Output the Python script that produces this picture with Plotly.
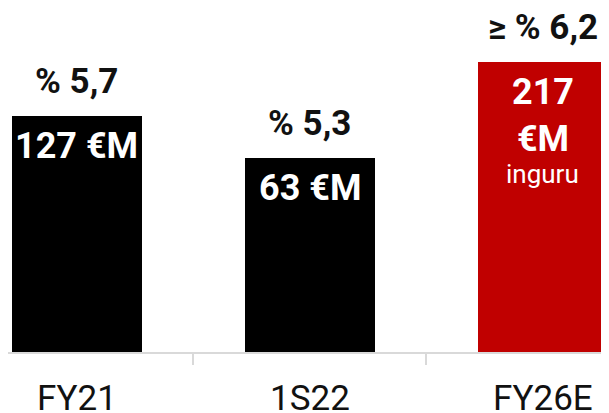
import plotly.graph_objects as go

categories = ["FY21", "1S22", "FY26E"]
margin_pct = [5.7, 5.3, 6.2]
pct_labels = ["% 5,7", "% 5,3", "≥ % 6,2"]
amount_labels = ["127 €M", "63 €M", "217<br>€M"]
sub_labels = ["", "", "inguru"]
bar_colors = ["#000000", "#000000", "#c00000"]

FONT = "Roboto, Inter, sans-serif"

fig = go.Figure()
fig.add_trace(go.Bar(
    x=categories, y=margin_pct, marker_color=bar_colors, marker_line_width=0,
    width=0.56, hoverinfo="skip",
))

for c, v, t in zip(categories, margin_pct, pct_labels):
    fig.add_annotation(x=c, y=v, text=f"<b>{t}</b>", showarrow=False,
                       yanchor="bottom", yshift=12,
                       font=dict(family=FONT, size=35, color="#111111"))

for c, v, t in zip(categories, margin_pct, amount_labels):
    fig.add_annotation(x=c, y=v, text=f"<b>{t}</b>", showarrow=False,
                       yanchor="top", yshift=-7,
                       font=dict(family=FONT, size=36, color="#ffffff"))

for c, v, t in zip(categories, margin_pct, sub_labels):
    if t:
        fig.add_annotation(x=c, y=v, text=t, showarrow=False,
                           yanchor="bottom", yshift=-129,
                           font=dict(family=FONT, size=26, color="#ffffff"))

# page body has an 8px margin; layout compensates so marks land where the reference has them
fig.update_layout(
    width=609, height=413,
    margin=dict(l=0, r=0, t=0, b=69),
    paper_bgcolor="#ffffff", plot_bgcolor="#ffffff",
    showlegend=False,
    bargap=0,
    xaxis=dict(range=[-0.296, 2.318], showgrid=False, zeroline=False,
               showline=True, linecolor="#d9d9d9", linewidth=2,
               tickson="boundaries", ticks="outside", ticklen=11, tickcolor="#d9d9d9", tickwidth=2,
               ticklabelstandoff=14,
               tickfont=dict(family=FONT, size=35, color="#111111"), fixedrange=True),
    yaxis=dict(range=[3.49, 6.705], visible=False, fixedrange=True),
)

fig.write_html("out.html")
